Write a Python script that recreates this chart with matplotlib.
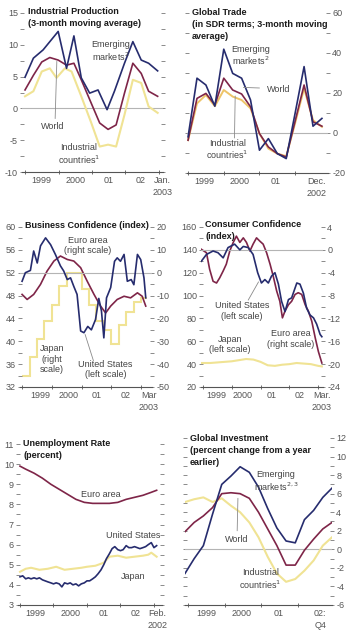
import matplotlib
matplotlib.use('Agg')
import matplotlib.pyplot as plt
import numpy as np

W, H = 350, 633
NAVY = '#262c6e'
MAROON = '#7e2548'
YELLOW = '#f0e394'
ORANGE = '#eec468'
ZERO = '#b4b4b4'
TXT = '#444444'
TICK = '#555555'

plt.rcParams['font.family'] = ['Liberation Sans Narrow', 'Liberation Sans', 'DejaVu Sans']
plt.rcParams['axes.unicode_minus'] = False
plt.rcParams['mathtext.fontset'] = 'custom'
plt.rcParams['mathtext.rm'] = 'Liberation Sans Narrow'
plt.rcParams['mathtext.it'] = 'Liberation Sans Narrow'
plt.rcParams['mathtext.bf'] = 'Liberation Sans Narrow:bold'

# ---- Industrial production
ip_em_x = [1999.00, 1999.25, 1999.54, 1999.99, 2000.24, 2000.46, 2000.68, 2000.93,
           2001.18, 2001.45, 2001.67, 2001.97, 2002.22, 2002.47, 2002.69, 2002.96]
ip_em = [4.9, 7.9, 9.2, 12.1, 6.3, 11.4, 4.8, 2.4, 2.9, -0.2, 2.7, 7.1, 10.5, 7.6, 7.1, 5.9]
ip_wo_x = [1999.00, 1999.25, 1999.50, 1999.74, 1999.99, 2000.24, 2000.46, 2000.68, 2000.93,
           2001.23, 2001.48, 2001.72, 2001.97, 2002.22, 2002.47, 2002.69, 2002.96]
ip_wo = [2.9, 5.2, 7.3, 8.0, 7.6, 6.8, 7.1, 4.5, 1.4, -2.3, -3.3, -2.6, 2.4, 7.1, 5.5, 2.7, 1.9]
ip_in_x = [1999.00, 1999.25, 1999.50, 1999.74, 1999.94, 2000.19, 2000.39, 2000.68, 2000.98,
           2001.23, 2001.48, 2001.72, 2001.97, 2002.22, 2002.47, 2002.69, 2002.96]
ip_in = [1.9, 2.7, 5.8, 6.3, 4.8, 6.3, 5.8, 1.9, -2.3, -6.0, -5.7, -6.0, -1.0, 4.5, 4.0, 0.3, -0.7]

# ---- Global trade (quarterly)
gt_x = [1999.0, 1999.25, 1999.5, 1999.75, 2000.0, 2000.25, 2000.5, 2000.75,
        2001.0, 2001.25, 2001.5, 2001.75, 2002.0, 2002.25, 2002.5, 2002.75]
gt_em = [-1.9, 27.4, 24.0, 13.4, 41.9, 29.8, 27.4, 16.5, -8.6, -2.8, -10.3, -12.8, 10.0, 33.2, 3.4, 7.3]
gt_wo = [-3.6, 17.3, 19.8, 14.0, 27.4, 21.5, 19.5, 13.1, -0.3, -7.0, -10.3, -12.0, 6.0, 24.0, 5.6, 3.4]
gt_in = [-3.6, 14.8, 19.0, 13.4, 21.5, 18.2, 16.5, 12.3, -0.3, -7.8, -10.3, -11.6, 5.0, 22.3, 6.4, 3.1]

# ---- Business confidence
bc_us_x = [1999.00, 1999.11, 1999.28, 1999.39, 1999.51, 1999.62, 1999.79, 1999.96, 2000.12,
           2000.29, 2000.40, 2000.52, 2000.63, 2000.74, 2000.85, 2000.97, 2001.08, 2001.21,
           2001.33, 2001.47, 2001.58, 2001.67, 2001.75, 2001.84, 2001.98, 2002.11, 2002.20,
           2002.31, 2002.43, 2002.54, 2002.67, 2002.76, 2002.88, 2002.99, 2003.10, 2003.16]
bc_us = [50.5, 52.0, 52.4, 55.8, 53.7, 56.7, 58.1, 56.9, 55.2, 53.2, 52.3, 50.8, 51.1, 49.6,
         48.2, 41.8, 41.5, 42.6, 42.0, 43.8, 47.5, 45.3, 40.6, 47.6, 49.4, 54.0, 54.6, 54.0,
         55.2, 50.5, 50.8, 49.9, 55.2, 54.3, 51.1, 47.6]
bc_eu_x = [1999.00, 1999.17, 1999.39, 1999.62, 1999.84, 2000.07, 2000.29, 2000.52, 2000.74,
           2000.97, 2001.19, 2001.42, 2001.64, 2001.81, 2001.98, 2002.20, 2002.43, 2002.65,
           2002.88, 2003.04, 2003.16]
bc_eu = [-9.5, -11.7, -9.5, -5.1, 0.7, 5.1, 7.3, 5.8, 5.1, 2.2, -3.7, -9.5, -14.6, -17.6,
         -14.6, -11.7, -10.3, -11.0, -8.8, -10.3, -14.6]
bc_jp_edges = [1999.0, 1999.25, 1999.5, 1999.75, 2000.0, 2000.25, 2000.5, 2000.75, 2001.0,
               2001.25, 2001.5, 2001.75, 2002.0, 2002.25, 2002.5, 2002.75, 2003.0, 2003.2]
bc_jp = [-45, -37, -29, -21, -14, -6, 0, 0, -7, -14, -21, -25, -31, -23, -17, -13, -11]

# ---- Consumer confidence
cc_us_x = [1998.94, 1999.12, 1999.35, 1999.52, 1999.70, 1999.87, 2000.10, 2000.28, 2000.40,
           2000.57, 2000.74, 2000.90, 2001.03, 2001.15, 2001.27, 2001.38, 2001.50, 2001.62,
           2001.73, 2001.85, 2001.97, 2002.08, 2002.26, 2002.37, 2002.49, 2002.60, 2002.72,
           2002.84, 2002.95, 2003.07, 2003.13]
cc_us = [130, 136, 139, 137.5, 133, 142, 145, 140, 143, 142, 136, 120, 111, 114, 111, 117,
         120, 110, 95, 86, 96.5, 98, 111, 110, 102, 89, 83, 80.5, 75, 66, 64]
cc_eu_x = [1998.94, 1999.12, 1999.23, 1999.35, 1999.47, 1999.58, 1999.70, 1999.81, 1999.93,
           2000.05, 2000.16, 2000.28, 2000.40, 2000.51, 2000.63, 2000.74, 2000.86, 2000.98,
           2001.09, 2001.21, 2001.33, 2001.44, 2001.56, 2001.67, 2001.76, 2001.85, 2001.97,
           2002.08, 2002.20, 2002.31, 2002.43, 2002.55, 2002.66, 2002.78, 2002.90, 2003.01, 2003.13]
cc_eu = [0.1, -0.5, -3.4, -5.5, -5.8, -4.9, -3.7, -2.5, -0.2, 1.3, 2.4, 1.3, 2.1, 1.3, -0.2,
         1.0, 2.1, 1.5, 1.0, -0.5, -2.5, -4.6, -7.2, -9.0, -11.9, -10.7, -9.6, -9.0, -7.8,
         -7.5, -7.8, -9.6, -10.7, -12.5, -15.4, -17.8, -19.8]
cc_jp_x = [1998.95, 1999.25, 1999.5, 1999.75, 2000.0, 2000.25, 2000.5, 2000.75, 2001.0,
           2001.25, 2001.5, 2001.75, 2002.0, 2002.25, 2002.5, 2002.75, 2003.0, 2003.13]
cc_jp = [41, 41, 41.5, 42, 42.5, 43.5, 44.5, 44, 42, 39, 38.5, 39.5, 40, 41, 40.5, 40, 38.5, 38]

# ---- Unemployment
ue_eu_x = [1999.0, 1999.17, 1999.42, 1999.67, 1999.92, 2000.17, 2000.42, 2000.67, 2000.92,
           2001.17, 2001.42, 2001.67, 2001.92, 2002.17, 2002.42, 2002.67, 2002.92, 2003.08]
ue_eu = [9.9, 9.75, 9.55, 9.3, 9.0, 8.75, 8.5, 8.25, 8.1, 8.05, 8.05, 8.05, 8.1, 8.25, 8.35,
         8.45, 8.6, 8.7]
ue_us_x = [1999.00, 1999.08, 1999.17, 1999.25, 1999.33, 1999.42, 1999.50, 1999.58, 1999.67,
           1999.75, 1999.83, 1999.92, 2000.00, 2000.08, 2000.17, 2000.25, 2000.33, 2000.42,
           2000.50, 2000.58, 2000.67, 2000.75, 2000.83, 2000.92, 2001.00, 2001.08, 2001.17,
           2001.25, 2001.33, 2001.42, 2001.50, 2001.58, 2001.67, 2001.75, 2001.83, 2001.92,
           2002.00, 2002.08, 2002.17, 2002.25, 2002.33, 2002.42, 2002.50, 2002.58, 2002.67,
           2002.75, 2002.83, 2002.92, 2003.00, 2003.08]
ue_us = [4.4, 4.45, 4.3, 4.35, 4.3, 4.35, 4.3, 4.35, 4.25, 4.2, 4.15, 4.1, 4.05, 4.1, 4.05,
         3.9, 4.1, 4.05, 4.1, 4.0, 4.05, 3.95, 4.05, 4.1, 4.2, 4.2, 4.3, 4.4, 4.55, 4.75, 5.0,
         5.3, 5.55, 5.8, 5.9, 5.75, 5.7, 5.75, 5.95, 5.85, 5.85, 5.9, 5.85, 5.8, 5.85, 5.9,
         6.0, 6.1, 5.85, 5.95]
ue_jp_x = [1999.0, 1999.17, 1999.33, 1999.58, 1999.83, 2000.08, 2000.33, 2000.58, 2000.83,
           2001.0, 2001.25, 2001.5, 2001.67, 2001.92, 2002.17, 2002.42, 2002.67, 2002.83,
           2002.92, 2003.08]
ue_jp = [4.65, 4.8, 4.85, 4.75, 4.8, 4.9, 4.75, 4.8, 4.85, 4.9, 4.95, 5.1, 5.4, 5.45, 5.35,
         5.4, 5.45, 5.5, 5.6, 5.4]

# ---- Global investment (quarterly, 1998Q4-2002Q4)
gi_x = [1998.92 + 0.25 * i for i in range(17)]
gi_em = [-2.6, -1.0, 0.4, 3.8, 7.0, 7.9, 8.9, 8.3, 6.7, 4.4, 2.3, 0.9, 0.7, 3.2, 4.2, 5.6, 6.6]
gi_wo = [1.9, 2.9, 3.6, 4.5, 6.0, 6.1, 6.0, 5.5, 4.0, 2.2, 0.4, -1.7, -1.7, -0.1, 1.1, 2.2, 2.9]
gi_in = [5.1, 5.4, 5.6, 5.1, 5.5, 4.7, 4.0, 2.9, 1.3, -0.8, -2.6, -3.5, -3.2, -2.3, -1.2, 0.4, 1.3]

fig = plt.figure(figsize=(W / 100, H / 100), dpi=100)


def make_ax(x0, y0, x1, y1):
    ax = fig.add_axes([x0 / W, 1 - y1 / H, (x1 - x0) / W, (y1 - y0) / H])
    for s in ['top', 'left', 'right']:
        ax.spines[s].set_visible(False)
    ax.spines['bottom'].set_color('#555555')
    ax.spines['bottom'].set_linewidth(0.8)
    ax.patch.set_alpha(0)
    return ax


def style_y(ax, lo, hi, major, minor, left=True, right=True, labelleft=True, labelright=False):
    ax.set_ylim(lo, hi)
    ax.set_yticks(np.arange(lo, hi + 0.001, major))
    ax.set_yticks(np.arange(lo, hi + 0.001, minor), minor=True)
    ax.tick_params(axis='y', which='both', left=left, right=right, labelleft=labelleft,
                   labelright=labelright, direction='inout', length=3, width=0.6,
                   color='#777777', labelsize=6.5, labelcolor=TICK, pad=1.5)


def style_x(ax, lo, hi, pos, labels):
    ax.set_xlim(lo, hi)
    yrs = [y for y in [1999, 2000, 2001, 2002, 2003] if lo <= y <= hi]
    ax.set_xticks(yrs)
    ax.set_xticklabels([])
    ax.set_xticks(pos, minor=True)
    ax.set_xticklabels(labels, minor=True, linespacing=1.35)
    ax.tick_params(axis='x', which='major', direction='inout', length=3, width=0.6,
                   color='#555555')
    ax.tick_params(axis='x', which='minor', length=0, labelsize=6.5, labelcolor=TICK, pad=3)


def title(x, y, s):
    fig.text(x / W, 1 - y / H, s, ha='left', va='top', fontsize=6.5, fontweight='bold',
             color='#1a1a1a', linespacing=1.4)


def note(ax, x, y, s, **kw):
    ax.text(x, y, s, ha='center', va='center', fontsize=6.5, color=TXT, linespacing=1.15, **kw)


def leader(ax, xy0, xy1):
    ax.annotate('', xy=xy1, xytext=xy0,
                arrowprops=dict(arrowstyle='-', color='#8a8a8a', lw=0.6, shrinkA=0, shrinkB=0))


# Panel 1: Industrial production
ax = make_ax(22, 13, 163, 172)
ax.axhline(0, color=ZERO, lw=0.8)
ax.plot(ip_in_x, ip_in, color=YELLOW, lw=1.5)
ax.plot(ip_wo_x, ip_wo, color=MAROON, lw=1.2)
ax.plot(ip_em_x, ip_em, color=NAVY, lw=1.2)
style_y(ax, -10, 15, 5, 2.5)
style_x(ax, 1998.91, 2003.12, [1999.5, 2000.5, 2001.5, 2002.46, 2003.1],
        ['1999', '2000', '01', '02', 'Jan.\n2003'])
note(ax, 2001.55, 9.0, 'Emerging\nmarkets$^{2}$')
note(ax, 1999.83, -2.8, 'World')
leader(ax, (1999.9, -1.6), (1999.95, 7.4))
note(ax, 2000.6, -7.3, 'Industrial\ncountries$^{1}$')
title(28, 7, 'Industrial Production\n(3-month moving average)')

# Panel 2: Global trade
ax = make_ax(187, 13, 328, 173)
ax.axhline(0, color=ZERO, lw=0.8)
ax.plot(gt_x, gt_in, color=ORANGE, lw=1.4)
ax.plot(gt_x, gt_wo, color=MAROON, lw=1.2)
ax.plot(gt_x, gt_em, color=NAVY, lw=1.2)
style_y(ax, -20, 60, 20, 10, labelleft=False, labelright=True)
style_x(ax, 1998.97, 2002.92, [1999.45, 2000.45, 2001.45, 2002.6],
        ['1999', '2000', '01', 'Dec.\n2002'])
note(ax, 2000.75, 38.5, 'Emerging\nmarkets$^{2}$')
note(ax, 2001.55, 22.0, 'World')
leader(ax, (2001.0, 22.5), (2000.55, 22.8))
note(ax, 2000.1, -8.5, 'Industrial\ncountries$^{1}$')
leader(ax, (2000.3, -2.5), (2000.32, 18.5))
title(192, 8, 'Global Trade\n(in SDR terms; 3-month moving\naverage)')

# Panel 3: Business confidence
ax = make_ax(20, 227, 152, 387)
ax.axhline(52, color=ZERO, lw=0.8)
style_y(ax, 32, 60, 4, 2, right=False)
style_x(ax, 1998.93, 2003.37, [1999.6, 2000.55, 2001.5, 2002.48, 2003.27],
        ['1999', '2000', '01', '02', 'Mar\n2003'])
ax2 = ax.twinx()
for s in ['top', 'left', 'right', 'bottom']:
    ax2.spines[s].set_visible(False)
ax2.stairs(bc_jp, bc_jp_edges, baseline=None, color=YELLOW, lw=1.5)
ax2.plot(bc_eu_x, bc_eu, color=MAROON, lw=1.2)
style_y(ax2, -50, 20, 10, 5, left=False, labelleft=False, labelright=True)
ax.set_zorder(ax2.get_zorder() + 1)
ax.plot(bc_us_x, bc_us, color=NAVY, lw=1.2)
note(ax, 2001.22, 56.7, 'Euro area\n(right scale)')
note(ax, 2000.0, 36.9, 'Japan\n(right\nscale)')
note(ax, 2001.8, 35.1, 'United States\n(left scale)')
leader(ax, (2001.4, 36.6), (2001.12, 41.2))
title(25, 221, 'Business Confidence (index)')

# Panel 4: Consumer confidence
ax = make_ax(201, 227, 323, 387)
ax.axhline(140, color=ZERO, lw=0.8)
style_y(ax, 20, 160, 20, 10, right=False)
style_x(ax, 1998.93, 2003.17, [1999.47, 2000.36, 2001.38, 2002.37, 2003.13],
        ['1999', '2000', '01', '02', 'Mar.\n2003'])
ax2 = ax.twinx()
for s in ['top', 'left', 'right', 'bottom']:
    ax2.spines[s].set_visible(False)
ax2.plot(cc_eu_x, cc_eu, color=MAROON, lw=1.2)
style_y(ax2, -24, 4, 4, 2, left=False, labelleft=False, labelright=True)
ax.set_zorder(ax2.get_zorder() + 1)
ax.plot(cc_jp_x, cc_jp, color=YELLOW, lw=1.5)
ax.plot(cc_us_x, cc_us, color=NAVY, lw=1.2)
note(ax, 2000.36, 86.5, 'United States\n(left scale)')
leader(ax, (2000.57, 96), (2000.93, 112))
note(ax, 1999.94, 57.6, 'Japan\n(left scale)')
note(ax, 2002.05, 62, 'Euro area\n(right scale)')
title(205, 220, 'Consumer Confidence\n(index)')

# Panel 5: Unemployment rate
ax = make_ax(18, 444, 162, 605)
ax.plot(ue_jp_x, ue_jp, color=YELLOW, lw=1.5)
ax.plot(ue_eu_x, ue_eu, color=MAROON, lw=1.2)
ax.plot(ue_us_x, ue_us, color=NAVY, lw=1.2)
style_y(ax, 3, 11, 1, 0.5)
style_x(ax, 1998.94, 2003.24, [1999.45, 2000.5, 2001.49, 2002.46, 2003.1],
        ['1999', '2000', '01', '02', 'Feb.\n2002'])
note(ax, 2001.4, 8.5, 'Euro area')
note(ax, 2002.37, 6.47, 'United States')
note(ax, 2002.37, 4.43, 'Japan')
title(23, 439, 'Unemployment Rate\n(percent)')

# Panel 6: Global investment
ax = make_ax(185, 438, 332, 605)
ax.axhline(0, color=ZERO, lw=0.8)
ax.plot(gi_x, gi_in, color=YELLOW, lw=1.5)
ax.plot(gi_x, gi_wo, color=MAROON, lw=1.2)
ax.plot(gi_x, gi_em, color=NAVY, lw=1.2)
style_y(ax, -6, 12, 2, 1, labelleft=False, labelright=True)
style_x(ax, 1998.92, 2002.92, [1999.5, 2000.47, 2001.47, 2002.6],
        ['1999', '2000', '01', '02:\nQ4'])
note(ax, 2001.4, 7.3, 'Emerging\nmarkets$^{2,3}$')
note(ax, 2000.34, 1.1, 'World')
leader(ax, (2000.34, 2.0), (2000.36, 5.5))
note(ax, 2000.97, -3.3, 'Industrial\ncountries$^{1}$')
title(190, 434, 'Global Investment\n(percent change from a year\nearlier)')

fig.savefig('out.png', dpi=100)
